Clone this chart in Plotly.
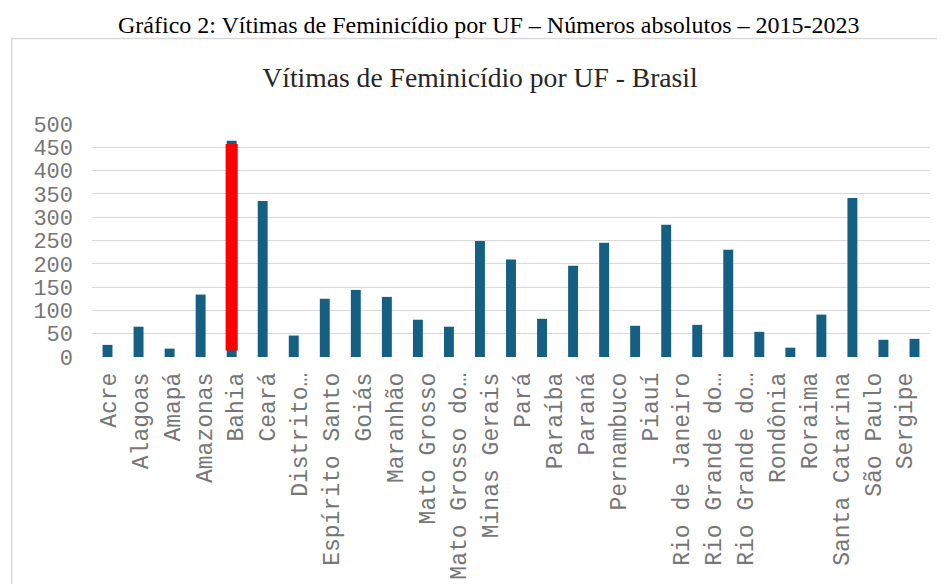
import plotly.graph_objects as go

# ---- data ----
states = ["Acre", "Alagoas", "Amapá", "Amazonas", "Bahia", "Ceará", "Distrito Federal",
          "Espírito Santo", "Goiás", "Maranhão", "Mato Grosso", "Mato Grosso do Sul",
          "Minas Gerais", "Pará", "Paraíba", "Paraná", "Pernambuco", "Piauí",
          "Rio de Janeiro", "Rio Grande do Norte", "Rio Grande do Sul", "Rondônia",
          "Roraima", "Santa Catarina", "São Paulo", "Sergipe", "Tocantins"]
tick_labels = ["Acre", "Alagoas", "Amapá", "Amazonas", "Bahia", "Ceará", "Distrito…",
               "Espírito Santo", "Goiás", "Maranhão", "Mato Grosso", "Mato Grosso do…",
               "Minas Gerais", "Pará", "Paraíba", "Paraná", "Pernambuco", "Piauí",
               "Rio de Janeiro", "Rio Grande do…", "Rio Grande do…", "Rondônia",
               "Roraima", "Santa Catarina", "São Paulo", "Sergipe", "Tocantins"]
victims = [26, 65, 18, 134, 464, 335, 46, 125, 144, 129, 80, 65, 249, 209, 82, 196,
           245, 67, 284, 69, 230, 54, 20, 91, 341, 37, 39]
y_ticks = list(range(0, 501, 50))

caption = "Gráfico 2: Vítimas de Feminicídio por UF – Números absolutos – 2015-2023"
title = "Vítimas de Feminicídio por UF - Brasil"
highlight = "Bahia"

OFF = 8  # page body margin
W, H = 945 - OFF, 584 - OFF
# margins expressed in reference-window pixels, then shifted by the page offset
ML = 91.5 - OFF
MT = 124 - OFF
MR = 945 - 930.5
MB = 584 - 357.3
PW = W - ML - MR
PH = H - MT - MB

def px_x(p):
    return (p - OFF - ML) / PW

def px_y(p):
    return (H - MB - (p - OFF)) / PH

mono = "Courier New, Liberation Mono, monospace"
serif = "Times New Roman, Liberation Serif, serif"

fig = go.Figure()
fig.add_trace(go.Bar(x=states, y=victims, marker_color="#156082",
                     marker_line_width=0, showlegend=False, hoverinfo="x+y"))

# label axis (labels in the reference are spaced slightly wider than bars)
lab_step = 31.9
r0 = -(108 - 91.5) / lab_step
r1 = r0 + PW / lab_step
fig.add_trace(go.Scatter(x=list(range(len(tick_labels))), y=victims, xaxis="x2",
                         mode="markers", marker=dict(opacity=0), hoverinfo="skip",
                         showlegend=False))

hi = states.index(highlight)
fig.add_shape(type="rect", xref="x", yref="y", x0=hi - 0.195, x1=hi + 0.195,
              y0=14, y1=457, fillcolor="#ff0000", line_width=0, layer="above")

# outer chart frame
fig.add_shape(type="rect", xref="paper", yref="paper", x0=px_x(11), x1=px_x(1200),
              y0=px_y(900), y1=px_y(38.5), line=dict(color="#d9d9d9", width=1.5),
              fillcolor="rgba(0,0,0,0)", layer="below")

fig.add_annotation(text=caption, xref="paper", yref="paper", x=px_x(488), y=px_y(25),
                   showarrow=False, xanchor="center", yanchor="middle",
                   font=dict(family=serif, size=24, color="#000000"))

fig.update_layout(
    width=W, height=H,
    margin=dict(l=ML, r=MR, t=MT, b=MB, pad=0, autoexpand=False),
    paper_bgcolor="white", plot_bgcolor="white",
    title=dict(text=title, x=(480 - OFF) / W, y=1 - (77 - OFF) / H,
               xanchor="center", yanchor="middle",
               font=dict(family=serif, size=27.6, color="#262626")),
    bargap=0.68,
    xaxis=dict(type="category", showticklabels=False, showgrid=False, zeroline=False,
               showline=False, ticks="", automargin=False),
    xaxis2=dict(overlaying="x", side="bottom", range=[r0, r1], tickmode="array",
                tickvals=list(range(len(tick_labels))), ticktext=tick_labels,
                tickangle=-90, showgrid=False, zeroline=False, showline=False, ticks="",
                ticklabelstandoff=10, automargin=False,
                tickfont=dict(family=mono, size=23, color="#767676")),
    yaxis=dict(range=[0, 500], tickmode="array", tickvals=y_ticks,
               showgrid=True, gridcolor="#d9d9d9", gridwidth=1.3,
               zeroline=False, showline=False, ticks="", ticklabelstandoff=18,
               automargin=False,
               tickfont=dict(family=mono, size=22, color="#767676")),
)

fig.write_html("out.html")
